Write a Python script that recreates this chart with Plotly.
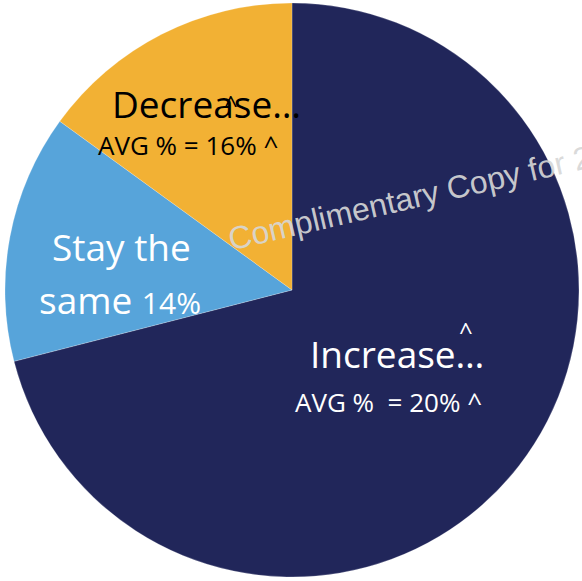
import plotly.graph_objects as go

# Share of respondents by expected change
categories = ["Increase", "Stay the same", "Decrease"]
shares = [71, 14, 15]
colors = ["#21265A", "#57A4DA", "#F2B134"]

W, H = 582, 581


def px(x, y):
    return x / W, 1 - y / H


fig = go.Figure(
    go.Pie(
        labels=categories,
        values=shares,
        sort=False,
        direction="clockwise",
        rotation=0,
        textinfo="none",
        hoverinfo="label+percent",
        marker=dict(colors=colors, line=dict(color="rgba(255,255,255,0.35)", width=0.6)),
        domain=dict(x=[5 / W, 579 / W], y=[4 / H, 578 / H]),
        showlegend=False,
    )
)

FONT = "Open Sans"
annotations = []


def note(x, y, text, size, color, angle=0):
    ax, ay = px(x, y)
    annotations.append(
        dict(
            x=ax, y=ay, xref="paper", yref="paper", text=text, showarrow=False,
            font=dict(family=FONT, size=size, color=color),
            xanchor="center", yanchor="middle", textangle=angle,
        )
    )


# Decrease slice labels
note(206, 104, "Decrease…", 37, "#000000")
note(231, 104, "^", 24, "#000000")
note(188, 145, "AVG % = 16% ^", 26, "#000000")

# Stay the same slice labels
note(121, 247, "Stay the", 37, "#FFFFFF")
note(120, 299, "same <span style='font-size:30px'>14%</span>", 37, "#FFFFFF")

# Increase slice labels
note(466, 330, "^", 24, "#FFFFFF")
note(397, 354, "Increase…", 37, "#FFFFFF")
note(388, 402, "AVG %  = 20% ^", 26, "#FFFFFF")

# Watermark
annotations.append(
    dict(
        x=222 / W, y=1 - 198 / H, xref="paper", yref="paper",
        text="Complimentary Copy for 2", showarrow=False,
        font=dict(family="Liberation Sans", size=32, color="rgba(215,215,215,0.92)"),
        xanchor="left", yanchor="middle", textangle=-13,
    )
)

fig.update_layout(
    width=W, height=H,
    margin=dict(l=0, r=0, t=0, b=0),
    paper_bgcolor="white",
    plot_bgcolor="white",
    annotations=annotations,
)

fig.write_html("out.html")
